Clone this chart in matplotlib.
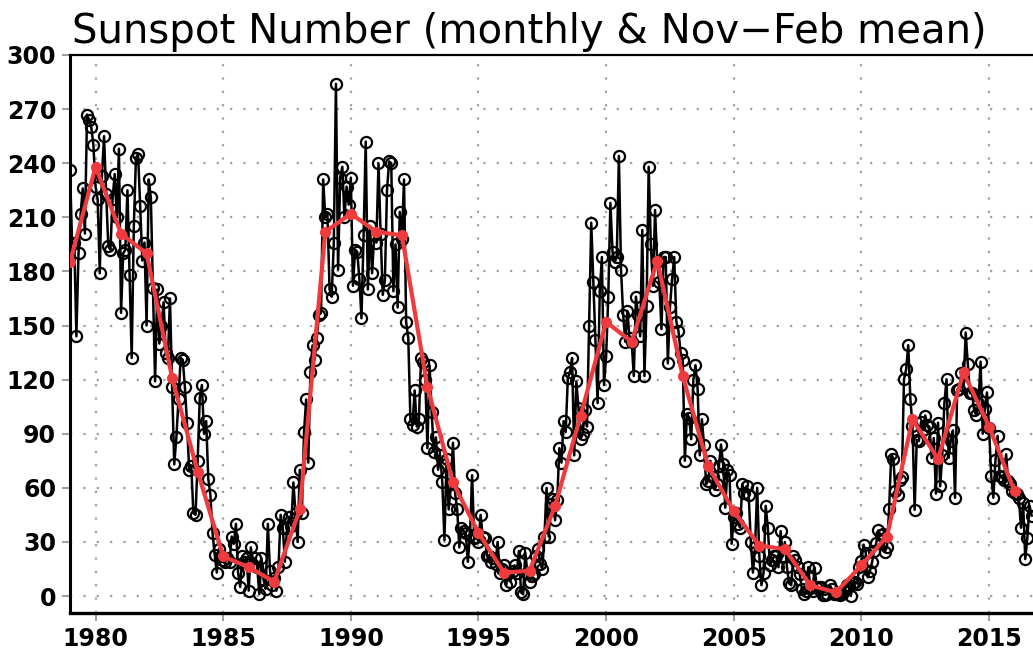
import numpy as np
import matplotlib
matplotlib.use('Agg')
import matplotlib.pyplot as plt

# monthly sunspot number, Jan 1979 onwards
ssn_1979_1988 = [
    236, 195, 196, 144, 190, 212, 226, 201, 267, 264, 260, 250,
    227, 220, 179, 233, 255, 223, 194, 192, 220, 234, 210, 248,
    157, 190, 192, 225, 178, 132, 205, 243, 245, 216, 186, 196,
    150, 231, 221, 171, 119, 170, 140, 150, 163, 135, 132, 165,
    116, 73, 88, 109, 132, 131, 116, 96, 70, 72, 46, 45,
    75, 110, 117, 90, 97, 65, 56, 35, 23, 13, 26, 22,
    20, 19, 21, 19, 33, 29, 40, 13, 5, 22, 19, 21,
    3, 27, 17, 21, 16, 1, 21, 9, 4, 40, 14, 6,
    10, 3, 16, 45, 38, 19, 38, 44, 39, 63, 46, 30,
    70, 46, 91, 109, 74, 124, 139, 131, 143, 156, 157, 231,
]
ssn_1989_1998 = [
    210, 212, 170, 166, 196, 284, 181, 232, 238, 210, 227, 217,
    232, 172, 192, 191, 176, 154, 200, 252, 170, 205, 179, 200,
    196, 240, 201, 167, 175, 225, 241, 240, 169, 195, 160, 213,
    198, 231, 152, 143, 98, 95, 114, 94, 98, 132, 130, 120,
    82, 128, 102, 80, 88, 70, 78, 63, 31, 76, 48, 62,
    85, 57, 48, 27, 38, 36, 35, 19, 34, 67, 32, 33,
    30, 45, 33, 32, 22, 22, 19, 21, 18, 30, 13, 15,
    17, 6, 13, 8, 14, 17, 13, 25, 2, 1, 24, 13,
    8, 11, 12, 22, 26, 18, 15, 33, 60, 33, 51, 54,
    42, 53, 82, 74, 97, 91, 121, 124, 132, 78, 119, 104,
]
ssn_1999_2008 = [
    87, 90, 103, 94, 150, 207, 174, 142, 107, 169, 188, 117,
    133, 166, 218, 191, 185, 188, 244, 181, 156, 141, 158, 143,
    141, 122, 166, 156, 144, 203, 122, 161, 238, 195, 172, 214,
    185, 174, 148, 188, 188, 129, 160, 176, 188, 152, 147, 135,
    131, 75, 101, 99, 87, 120, 128, 115, 78, 98, 84, 62,
    64, 75, 66, 59, 62, 72, 84, 73, 49, 70, 67, 29,
    44, 46, 40, 38, 62, 57, 61, 56, 30, 13, 27, 60,
    22, 6, 13, 50, 38, 17, 20, 22, 22, 16, 36, 22,
    30, 16, 7, 6, 22, 20, 16, 12, 4, 1, 3, 16,
    4.2, 3.0, 15.8, 4.6, 4.9, 5.0, 0.8, 0.7, 1.1, 6.3, 4.0, 1.0,
]
ssn_2009_2016 = [
    1.3, 1.2, 0.6, 1.2, 2.9, 6.3, 5.5, 0.0, 7.1, 7.7, 6.9, 16.3,
    19.5, 28.5, 24.0, 10.4, 13.9, 18.8, 25.2, 29.6, 36.4, 33.6, 34.4, 24.5,
    27.3, 48.3, 78.6, 76.1, 58.2, 56.1, 64.5, 65.8, 120.1, 125.7, 139.1, 109.3,
    94.4, 47.8, 86.6, 85.9, 96.5, 92.0, 100.1, 94.8, 93.7, 76.5, 87.6, 56.8,
    96.1, 60.9, 78.3, 107.3, 120.2, 76.7, 86.2, 91.8, 54.5, 114.4, 114.6, 123.6,
    116.5, 146.1, 128.7, 112.5, 112.5, 102.9, 100.2, 106.9, 130.0, 90.0, 103.6, 112.9,
    93.0, 66.7, 54.5, 75.3, 88.8, 66.5, 65.8, 64.4, 78.6, 63.6, 62.2, 58.0,
    57.0, 56.4, 54.1, 37.9, 51.5, 20.5, 32.4, 50.2, 44.6,
]

# Nov-Feb mean, plotted at January of each year
winter_years = list(range(1979, 2017))
winter_mean = [185, 238, 201, 190, 121, 69, 22, 16, 8, 48,
               202, 212, 202, 200, 116, 63, 35, 13, 14, 50,
               100, 152, 141, 186, 122, 72, 47, 28, 26, 6,
               2, 17, 33, 98, 76, 124, 94, 58]

ssn = np.array(ssn_1979_1988 + ssn_1989_1998 + ssn_1999_2008 + ssn_2009_2016)
t = 1979 + np.arange(len(ssn)) / 12.0

fig = plt.figure(figsize=(10.33, 6.57), dpi=100)
ax = fig.add_axes([70/1033, 1 - 613/657, 1 - 70/1033, (613 - 55)/657])

ax.plot(t, ssn, color='black', lw=1.8, marker='o', ms=8, mfc='none',
        mec='black', mew=1.6, zorder=3)
ax.plot(winter_years, winter_mean, color='#ef3b3e', lw=3, marker='o',
        ms=7, mec='#ef3b3e', zorder=4)

ax.set_xlim(1979.0, 2016.72)
ax.set_ylim(-9.4, 300)
ax.set_xticks(range(1980, 2016, 5))
ax.set_yticks(range(0, 301, 30))

ax.grid(True, color='#a0a0a0', lw=1.6, linestyle=(0, (1, 5)), zorder=1)
ax.tick_params(axis='both', direction='out', length=6, width=1.5,
               color='#a0a0a0', labelsize=17, pad=4)
ax.spines['right'].set_visible(False)
ax.spines['left'].set_linewidth(2.2)
ax.spines['bottom'].set_linewidth(2.4)
ax.spines['top'].set_linewidth(1.6)
for lab in ax.get_xticklabels() + ax.get_yticklabels():
    lab.set_fontweight('bold')

ax.set_title('Sunspot Number (monthly & Nov\u2212Feb mean)', loc='left',
             fontsize=29, pad=9, x=0.002)

fig.savefig('out.png', dpi=100)
